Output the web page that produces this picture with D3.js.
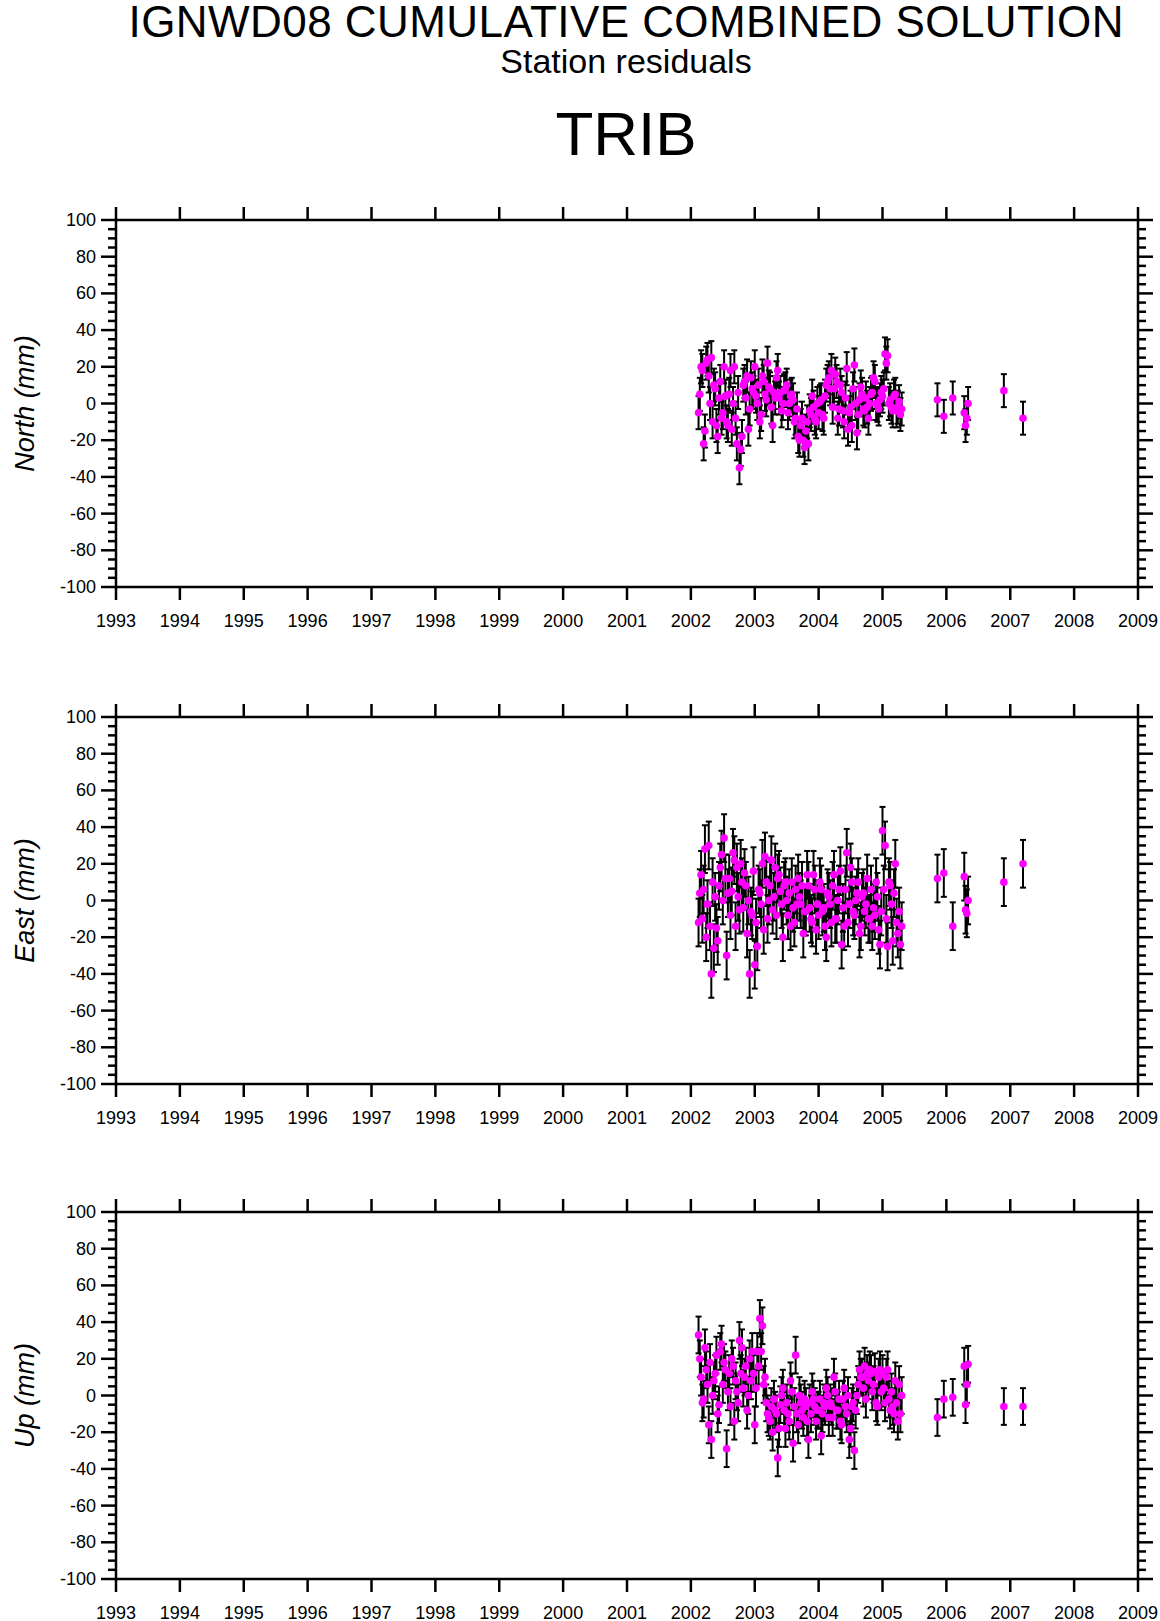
<!DOCTYPE html>
<html>
<head>
<meta charset="utf-8">
<title>TRIB residuals</title>
<script src="https://d3js.org/d3.v7.min.js"></script>
<style>
  html, body { margin: 0; padding: 0; background: #fff; }
  svg { font-family: 'Liberation Sans', Arial, sans-serif; }
</style>
</head>
<body>
<div id="chart"></div>
<script>
// epochs (decimal years), dense part is two interleaved series
const times1 = [2002.12,2002.16,2002.20,2002.24,2002.28,2002.32,2002.36,2002.40,2002.44,2002.48,2002.52,2002.56,2002.60,2002.64,2002.68,2002.72,2002.76,2002.80,2002.84,2002.88,2002.92,2002.96,
  2003.00,2003.04,2003.08,2003.12,2003.16,2003.20,2003.24,2003.28,2003.32,2003.36,2003.40,2003.44,2003.48,2003.52,2003.56,2003.60,2003.64,2003.68,2003.72,2003.76,2003.80,2003.84,2003.88,2003.92,2003.96,
  2004.00,2004.04,2004.08,2004.12,2004.16,2004.20,2004.24,2004.28,2004.32,2004.36,2004.40,2004.44,2004.48,2004.52,2004.56,2004.60,2004.64,2004.68,2004.72,2004.76,2004.80,2004.84,2004.88,2004.92,2004.96,
  2005.00,2005.04,2005.08,2005.12,2005.16,2005.20,2005.24,2005.28];
const times2 = [2002.14,2002.18,2002.22,2002.26,2002.30,2002.34,2002.38,2002.42,2002.46,2002.50,2002.54,2002.58,2002.62,2002.66,2002.70,2002.74,2002.78,2002.82,2002.86,2002.90,2002.94,2002.98,
  2003.02,2003.06,2003.10,2003.14,2003.18,2003.22,2003.26,2003.30,2003.34,2003.38,2003.42,2003.46,2003.50,2003.54,2003.58,2003.62,2003.66,2003.70,2003.74,2003.78,2003.82,2003.86,2003.90,2003.94,2003.98,
  2004.02,2004.06,2004.10,2004.14,2004.18,2004.22,2004.26,2004.30,2004.34,2004.38,2004.42,2004.46,2004.50,2004.54,2004.58,2004.62,2004.66,2004.70,2004.74,2004.78,2004.82,2004.86,2004.90,2004.94,2004.98,
  2005.02,2005.06,2005.10,2005.14,2005.18,2005.22,2005.26,2005.30];
const timesSparse = [2005.86,2005.96,2006.10,2006.28,2006.30,2006.32,2006.34,2006.90,2007.20];

const north1 = [-5,20,-22,22,15,25,10,-12,3,-8,20,-10,5,-14,20,-22,-35,-18,12,15,-3,8,
  20,0,-10,15,5,22,8,-12,3,18,6,0,8,-5,4,2,-8,-18,-12,-20,-15,-22,-6,-2,-10,
  -5,2,-8,10,14,18,8,12,-3,6,-10,19,-5,-12,21,-16,2,5,-4,-2,0,6,12,-1,2,
  4,27,26,2,-4,5,-2,-6];
const north2 = [5,18,-15,24,0,-10,8,-18,12,-5,4,-12,18,0,-8,6,-25,10,3,-14,14,6,
  4,10,-6,12,2,9,-2,6,14,3,-4,7,10,0,5,-10,-3,-20,-8,-24,-10,-4,4,-8,0,
  1,-6,4,12,8,-2,16,-8,10,-4,3,-14,-2,8,0,-6,9,-3,3,-8,5,14,0,-3,6,
  8,22,0,-2,4,-4,1,-3];
const northSparse = [2,-7,3,-5,-12,-8,0,7,-8];

const east1 = [-12,14,6,-20,30,-40,-26,-15,8,25,34,-30,12,5,22,18,-5,10,15,-18,-40,-8,
  -35,-25,4,20,24,-10,8,-5,18,12,5,-20,10,-8,-14,-4,6,12,-2,-18,-6,8,-10,14,-16,
  -8,6,-4,-20,2,-12,14,-10,6,-24,-14,26,-2,10,-8,4,-18,2,-6,12,-10,-14,-8,2,-24,
  38,30,-25,8,-22,20,-18,-24];
const east2 = [4,-10,28,-2,-14,10,2,-22,18,0,12,4,-8,26,-14,2,20,-4,8,0,-6,16,
  -12,6,-2,-16,10,0,22,2,-8,14,-2,8,0,4,10,-12,-2,2,8,-6,14,-4,-12,6,-2,
  10,-6,-14,4,-2,8,-10,0,16,-4,6,-12,18,-6,0,10,-14,4,-2,-10,6,-4,10,-16,-6,
  6,-10,10,-2,4,-12,-6,-14];
const eastSparse = [12,15,-14,13,-5,-7,0,10,20];

const up1 = [33,10,-2,14,-16,-24,8,22,-5,28,18,-29,12,20,-14,2,30,26,10,-8,20,24,
  -16,24,42,38,10,-10,-14,-20,-8,-34,-5,4,-18,-10,8,-26,22,-16,-4,-12,-6,-24,-10,-2,-14,
  -8,-22,-4,4,-12,-6,10,-8,-2,-16,4,-10,-24,-6,-30,0,14,10,16,12,14,2,13,-6,14,
  12,-4,14,-8,-6,8,-14,-10];
const up2 = [20,-4,26,6,18,0,12,-10,24,6,14,2,-6,16,8,-4,12,4,16,0,8,12,
  4,16,24,6,-4,-12,-6,-2,-10,-18,0,-8,-4,-14,2,-6,-10,0,-8,-2,-14,-4,2,-6,-8,
  -2,-10,-6,0,-4,-12,2,-8,-14,-2,-6,0,-18,-4,-8,6,10,4,-2,8,12,6,-4,10,2,
  4,10,-2,2,-10,-4,6,0];
const upSparse = [-12,-2,-1,16,-5,6,17,-6,-6];

const panelNames = ['North (mm)', 'East (mm)', 'Up (mm)'];
const sigmas = [9, 13, 10];
const yearTicks = d3.range(1993, 2010);
const yTicks = [100,80,60,40,20,0,-20,-40,-60,-80,-100];

const series = [
  [north1, north2, northSparse],
  [east1, east2, eastSparse],
  [up1, up2, upSparse]
];

const W = 1160, H = 1621;
const left = 116, right = 1138, ph = 367;
const tops = [220, 717, 1212];

const svg = d3.select('#chart').append('svg').attr('width', W).attr('height', H);

svg.append('text').attr('x', 626).attr('y', 37).attr('text-anchor', 'middle')
  .attr('font-size', 44).attr('textLength', 995).text('IGNWD08 CUMULATIVE COMBINED SOLUTION');
svg.append('text').attr('x', 626).attr('y', 73).attr('text-anchor', 'middle')
  .attr('font-size', 34).text('Station residuals');
svg.append('text').attr('x', 626).attr('y', 155).attr('text-anchor', 'middle')
  .attr('font-size', 62).text('TRIB');

const x = d3.scaleLinear().domain([1993, 2009]).range([left, right]);

series.forEach((s, i) => {
  const top = tops[i];
  const y = d3.scaleLinear().domain([-100, 100]).range([top + ph, top]);
  const g = svg.append('g');

  const pts = [];
  times1.forEach((t, k) => pts.push({t, v: s[0][k]}));
  times2.forEach((t, k) => pts.push({t, v: s[1][k]}));
  timesSparse.forEach((t, k) => pts.push({t, v: s[2][k]}));
  const sg = sigmas[i];

  // error bars
  const eb = g.append('g').attr('stroke', '#000').attr('stroke-width', 2);
  pts.forEach(p => {
    const cx = x(p.t);
    eb.append('line').attr('x1', cx).attr('x2', cx).attr('y1', y(p.v - sg)).attr('y2', y(p.v + sg));
    eb.append('line').attr('x1', cx - 3).attr('x2', cx + 3).attr('y1', y(p.v - sg)).attr('y2', y(p.v - sg));
    eb.append('line').attr('x1', cx - 3).attr('x2', cx + 3).attr('y1', y(p.v + sg)).attr('y2', y(p.v + sg));
  });
  g.append('g').selectAll('circle').data(pts).join('circle')
    .attr('cx', d => x(d.t)).attr('cy', d => y(d.v)).attr('r', 3.8).attr('fill', '#ff00ff');

  // frame
  g.append('rect').attr('x', left).attr('y', top).attr('width', right - left).attr('height', ph)
    .attr('fill', 'none').attr('stroke', '#000').attr('stroke-width', 2.5);

  // y ticks, outward major, minor every 5
  const tk = g.append('g').attr('stroke', '#000').attr('stroke-width', 2.5);
  d3.range(-100, 101, 5).forEach(v => {
    const len = v % 20 === 0 ? 15 : 8;
    tk.append('line').attr('x1', left - len).attr('x2', left).attr('y1', y(v)).attr('y2', y(v));
    tk.append('line').attr('x1', right).attr('x2', right + len).attr('y1', y(v)).attr('y2', y(v));
  });
  yearTicks.forEach(t => {
    tk.append('line').attr('x1', x(t)).attr('x2', x(t)).attr('y1', top - 13).attr('y2', top);
    tk.append('line').attr('x1', x(t)).attr('x2', x(t)).attr('y1', top + ph).attr('y2', top + ph + 13);
  });

  g.append('g').selectAll('text').data(yTicks).join('text')
    .attr('x', left - 20).attr('y', d => y(d) + 6).attr('text-anchor', 'end')
    .attr('font-size', 18).text(d => d);
  g.append('g').selectAll('text').data(yearTicks).join('text')
    .attr('x', d => x(d)).attr('y', top + ph + 40).attr('text-anchor', 'middle')
    .attr('font-size', 18).text(d => d);

  g.append('text').attr('transform', `translate(34,${top + ph / 2}) rotate(-90)`)
    .attr('text-anchor', 'middle').attr('font-size', 27).attr('font-style', 'italic')
    .text(panelNames[i]);
});
</script>
</body>
</html>
